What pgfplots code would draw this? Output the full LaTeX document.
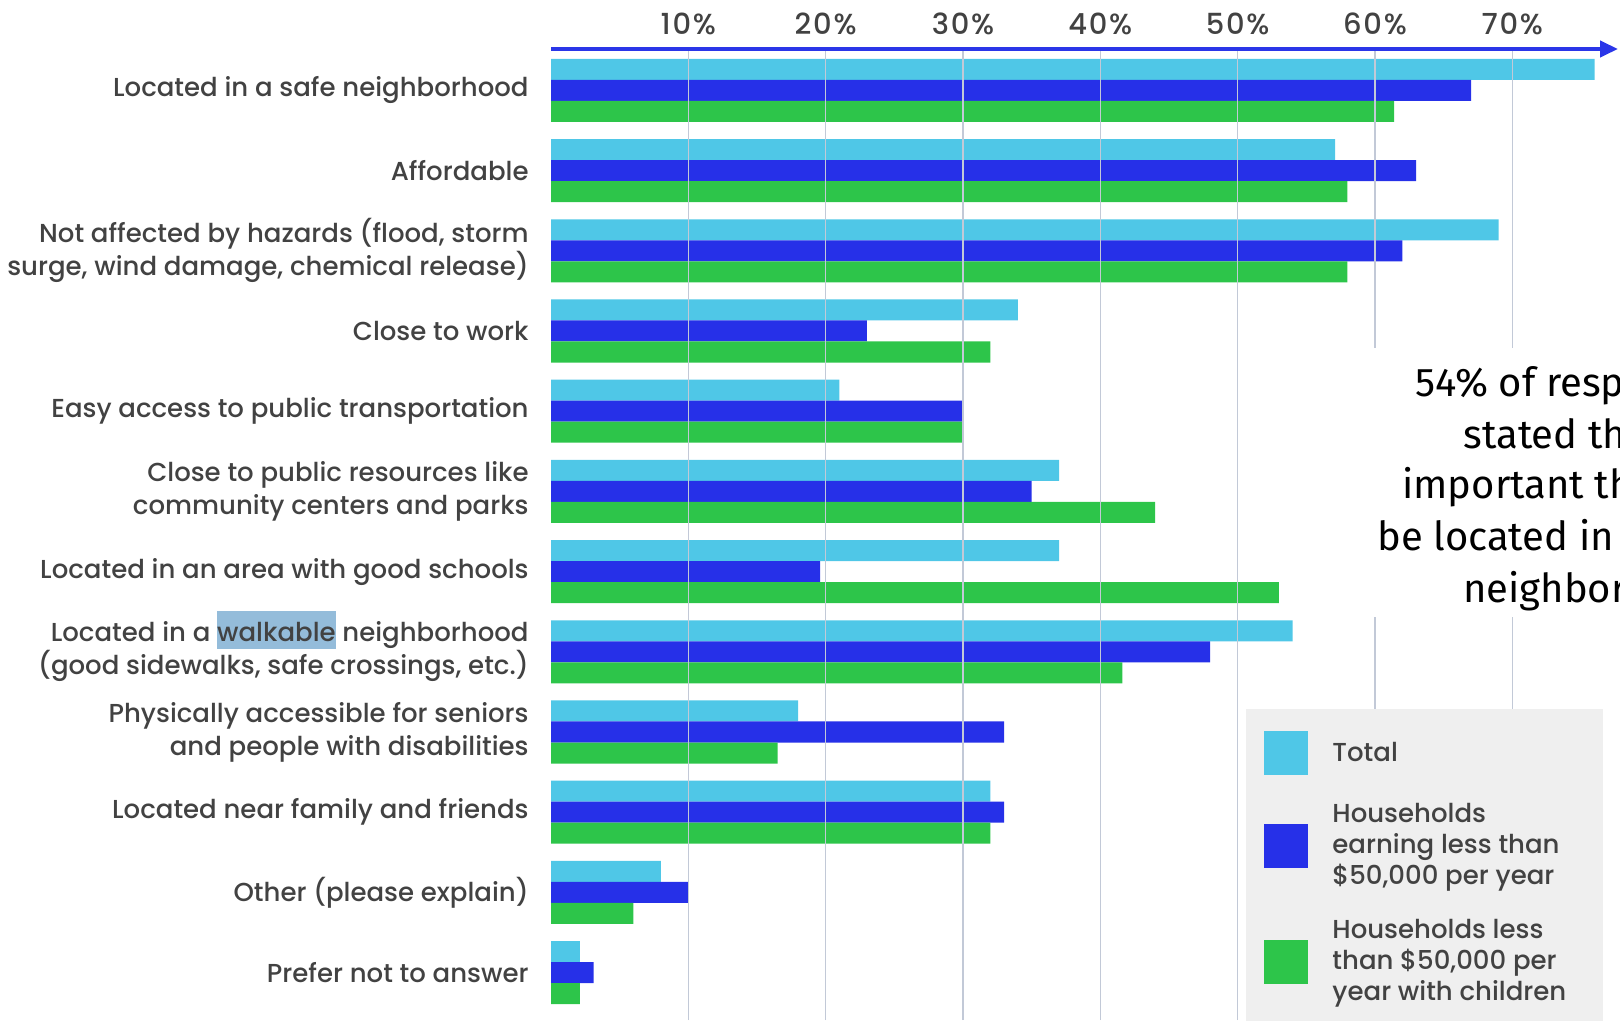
\documentclass[border=0pt]{standalone}
\usepackage{pgfplots}
\pgfplotsset{compat=1.18}
\usepackage{fontspec}
\setmainfont{Poppins}[UprightFont={* Medium}]
\newfontfamily\notefont{Fira Sans}
\usetikzlibrary{arrows.meta}

\definecolor{cTotal}{HTML}{4FC7E7}
\definecolor{cLow}{HTML}{2630E8}
\definecolor{cKids}{HTML}{2DC54A}
\definecolor{cGrid}{HTML}{C2C9D7}
\definecolor{cArrow}{HTML}{2A36E8}
\definecolor{cLegend}{HTML}{EFEFEF}
\definecolor{cText}{HTML}{424242}
\definecolor{cHl}{HTML}{94BCDA}

% square legend patches
\pgfplotsset{sqlegend/.style={legend image code/.code={\fill[##1] (0pt,-11pt) rectangle (22pt,11pt);}}}

\begin{document}
\begin{tikzpicture}
% picture = 1620 x 1021 px, 1 px = 0.5pt
\useasboundingbox (0,0) rectangle (810pt,-510.5pt);
\clip (0,0) rectangle (810pt,-510.5pt);
\begin{axis}[
    at={(275.5pt,-24.5pt)}, anchor=north west,
    scale only axis, width=533.5pt, height=485.5pt,
    xmin=0, xmax=77.7, ymin=-0.591, ymax=11.516,
    axis line style={draw=none},
    axis on top,
    xmajorgrids, grid style={color=cGrid, line width=0.75pt},
    major tick length=0pt,
    xtick={10,20,30,40,50,60,70},
    xticklabels={10\%,20\%,30\%,40\%,50\%,60\%,70\%},
    xticklabel pos=upper,
    xticklabel style={anchor=south, inner sep=0pt, yshift=7pt, text=cText,
        font=\fontsize{14.5}{17}\selectfont\addfontfeature{LetterSpace=6}},
    ytick={0,...,11},
    yticklabels={
        Prefer not to answer,
        Other (please explain),
        Located near family and friends,
        {Physically accessible for seniors\\and people with disabilities},
        {Located in a {\setlength{\fboxsep}{0pt}\smash{\colorbox{cHl}{\rule[-0.27em]{0pt}{1.44em}walkable}}} neighborhood\\(good sidewalks, safe crossings, etc.)},
        Located in an area with good schools,
        {Close to public resources like\\community centers and parks},
        Easy access to public transportation,
        Close to work,
        {Not affected by hazards (flood, storm\\surge, wind damage, chemical release)},
        Affordable,
        Located in a safe neighborhood},
    yticklabel style={align=right, inner sep=0pt, xshift=-11pt, text=cText,
        font=\fontsize{13}{16.5}\selectfont},
    xbar, bar width=0.262,
    legend style={at={(0.6514,0.3203)}, anchor=north west,
        fill=cLegend, draw=none, inner xsep=9pt, inner ysep=11pt,
        row sep=12pt, column sep=10pt, align=left, text=cText,
        font=\fontsize{13}{15.5}\selectfont},
    legend cell align=left,
]
\addplot[xbar, fill=cTotal, draw=none, bar shift=0.262, sqlegend] coordinates {
    (2.1,0) (8,1) (32,2) (18,3) (54,4) (37,5)
    (37,6) (21,7) (34,8) (69,9) (57.1,10) (76,11)
};
\addlegendentry{\makebox[124.5pt][l]{Total}}
\addplot[xbar, fill=cLow, draw=none, bar shift=0, sqlegend] coordinates {
    (3.1,0) (10,1) (33,2) (33,3) (48,4) (19.6,5)
    (35,6) (30,7) (23,8) (62,9) (63,10) (67,11)
};
\addlegendentry{Households\\earning less than\\\$50,000 per year}
\addplot[xbar, fill=cKids, draw=none, bar shift=-0.262, sqlegend] coordinates {
    (2.1,0) (6,1) (32,2) (16.5,3) (41.6,4) (53,5)
    (44,6) (30,7) (32,8) (58,9) (58,10) (61.4,11)
};
\addlegendentry{Households less\\than \$50,000 per\\year with children}
\end{axis}

\begin{scope}[x=0.5pt, y=-0.5pt]
% axis arrow at the top
\draw[cArrow, line width=2pt, -{Triangle[length=9pt, width=8pt]}] (551,49) -- (1618,49);
% callout box, cut by the right edge
\fill[white] (1330,348) rectangle (1620,617);
\begin{scope}[every node/.style={anchor=base west, inner sep=0pt,
        font=\notefont\fontsize{20}{24}\selectfont}]
\node at (1415,396) {54\% of respondents};
\node at (1463,448) {stated that it is};
\node at (1402,498) {important that homes};
\node at (1377,550) {be located in a safe};
\node at (1463,602) {neighborhood};
\end{scope}
\end{scope}
\end{tikzpicture}
\end{document}
